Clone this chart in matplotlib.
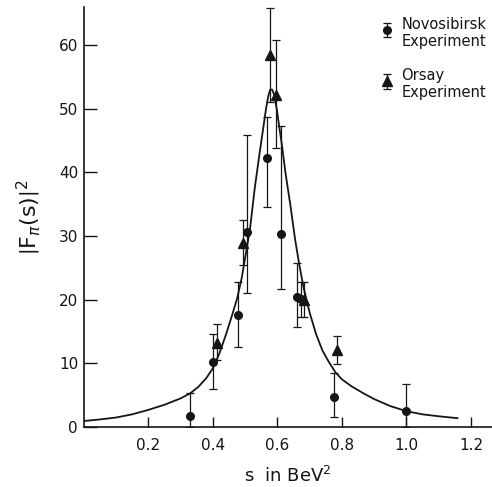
import numpy as np
import matplotlib.pyplot as plt

# Novosibirsk (circles)
nov_s = [0.330, 0.402, 0.479, 0.507, 0.569, 0.611, 0.662, 0.674, 0.777, 1.000]
nov_f = [1.7, 10.2, 17.6, 30.6, 42.2, 30.3, 20.4, 20.1, 4.7, 2.5]
nov_top = [5.3, 14.6, 22.8, 45.8, 48.7, 47.3, 25.7, 22.8, 8.5, 6.75]
nov_bot = [0.0, 6.0, 12.6, 21.0, 34.5, 21.7, 15.7, 17.3, 1.6, 0.0]

# Orsay (triangles)
ors_s = [0.414, 0.495, 0.578, 0.597, 0.683, 0.786]
ors_f = [13.2, 28.9, 58.4, 52.1, 19.9, 12.1]
ors_top = [16.2, 32.5, 65.8, 60.8, 22.8, 14.3]
ors_bot = [10.5, 25.4, 51.0, 43.8, 17.3, 9.9]

# theoretical curve
curve_s = [0.0, 0.05, 0.10, 0.15, 0.20, 0.25, 0.30, 0.33, 0.355, 0.38,
           0.40, 0.42, 0.44, 0.46, 0.476, 0.49, 0.50, 0.515, 0.53, 0.545,
           0.555, 0.565, 0.572, 0.578, 0.584, 0.59, 0.598, 0.605, 0.615, 0.625,
           0.64, 0.655, 0.668, 0.681, 0.70, 0.72, 0.74, 0.76, 0.78, 0.80,
           0.83, 0.867, 0.90, 0.95, 1.0, 1.05, 1.10, 1.158]
curve_f = [0.95, 1.2, 1.5, 2.0, 2.7, 3.5, 4.5, 5.3, 6.3, 7.7,
           9.2, 11.5, 14.4, 17.6, 20.3, 23.5, 26.5, 31.0, 37.5, 43.0,
           46.5, 50.0, 52.0, 53.0, 53.0, 52.2, 50.0, 47.5, 44.0, 40.0,
           35.0, 29.5, 25.5, 22.0, 18.0, 14.6, 12.0, 10.2, 8.6, 7.5,
           6.4, 5.3, 4.4, 3.3, 2.5, 2.0, 1.7, 1.4]

xticks = [0.2, 0.4, 0.6, 0.8, 1.0, 1.2]
yticks = [0, 10, 20, 30, 40, 50, 60]

ink = '#151515'
fig = plt.figure(figsize=(4.92, 4.87), dpi=100)
ax = fig.add_axes([0.170, 0.123, 0.830, 0.863])

ax.plot(curve_s, curve_f, color=ink, lw=1.3, zorder=2,
        solid_joinstyle='round')

nf = np.array(nov_f)
nerr = [nf - np.array(nov_bot), np.array(nov_top) - nf]
h1 = ax.errorbar(nov_s, nov_f, yerr=nerr, fmt='o', color=ink, ms=5.5,
                 elinewidth=0.9, capsize=3, capthick=0.9, zorder=3)
of = np.array(ors_f)
oerr = [of - np.array(ors_bot), np.array(ors_top) - of]
h2 = ax.errorbar(ors_s, ors_f, yerr=oerr, fmt='^', color=ink, ms=7.5,
                 elinewidth=0.9, capsize=3, capthick=0.9, zorder=3)

ax.set_xlim(0, 1.265)
ax.set_ylim(0, 66)
ax.set_xticks(xticks)
ax.set_xticklabels(['0.2', '0.4', '0.6', '0.8', '1.0', '1.2'])
ax.set_yticks(yticks)
for sp in ['top', 'right']:
    ax.spines[sp].set_visible(False)
for sp in ['left', 'bottom']:
    ax.spines[sp].set_linewidth(1.2)
    ax.spines[sp].set_color(ink)
ax.tick_params(axis='x', direction='in', length=7, width=1, pad=8,
               labelsize=11, colors=ink)
ax.tick_params(axis='y', direction='in', length=9, width=1, pad=4,
               labelsize=11, colors=ink)

ax.set_xlabel(r's  in BeV$^2$', fontsize=13, labelpad=9, color=ink)
ax.set_ylabel(r'$\left|\mathrm{F}_\pi(\mathrm{s})\right|^2$', fontsize=16,
              labelpad=11, color=ink)

leg = ax.legend([h1, h2], ['Novosibirsk\nExperiment', 'Orsay\nExperiment'],
                loc='upper left', bbox_to_anchor=(0.765, 0.978),
                bbox_transform=fig.transFigure, frameon=False,
                fontsize=10.5, handlelength=0.6, handletextpad=0.7,
                handleheight=2.4, labelspacing=1.3, borderaxespad=0)
for t in leg.get_texts():
    t.set_color(ink)

fig.savefig('out.png', dpi=100)
